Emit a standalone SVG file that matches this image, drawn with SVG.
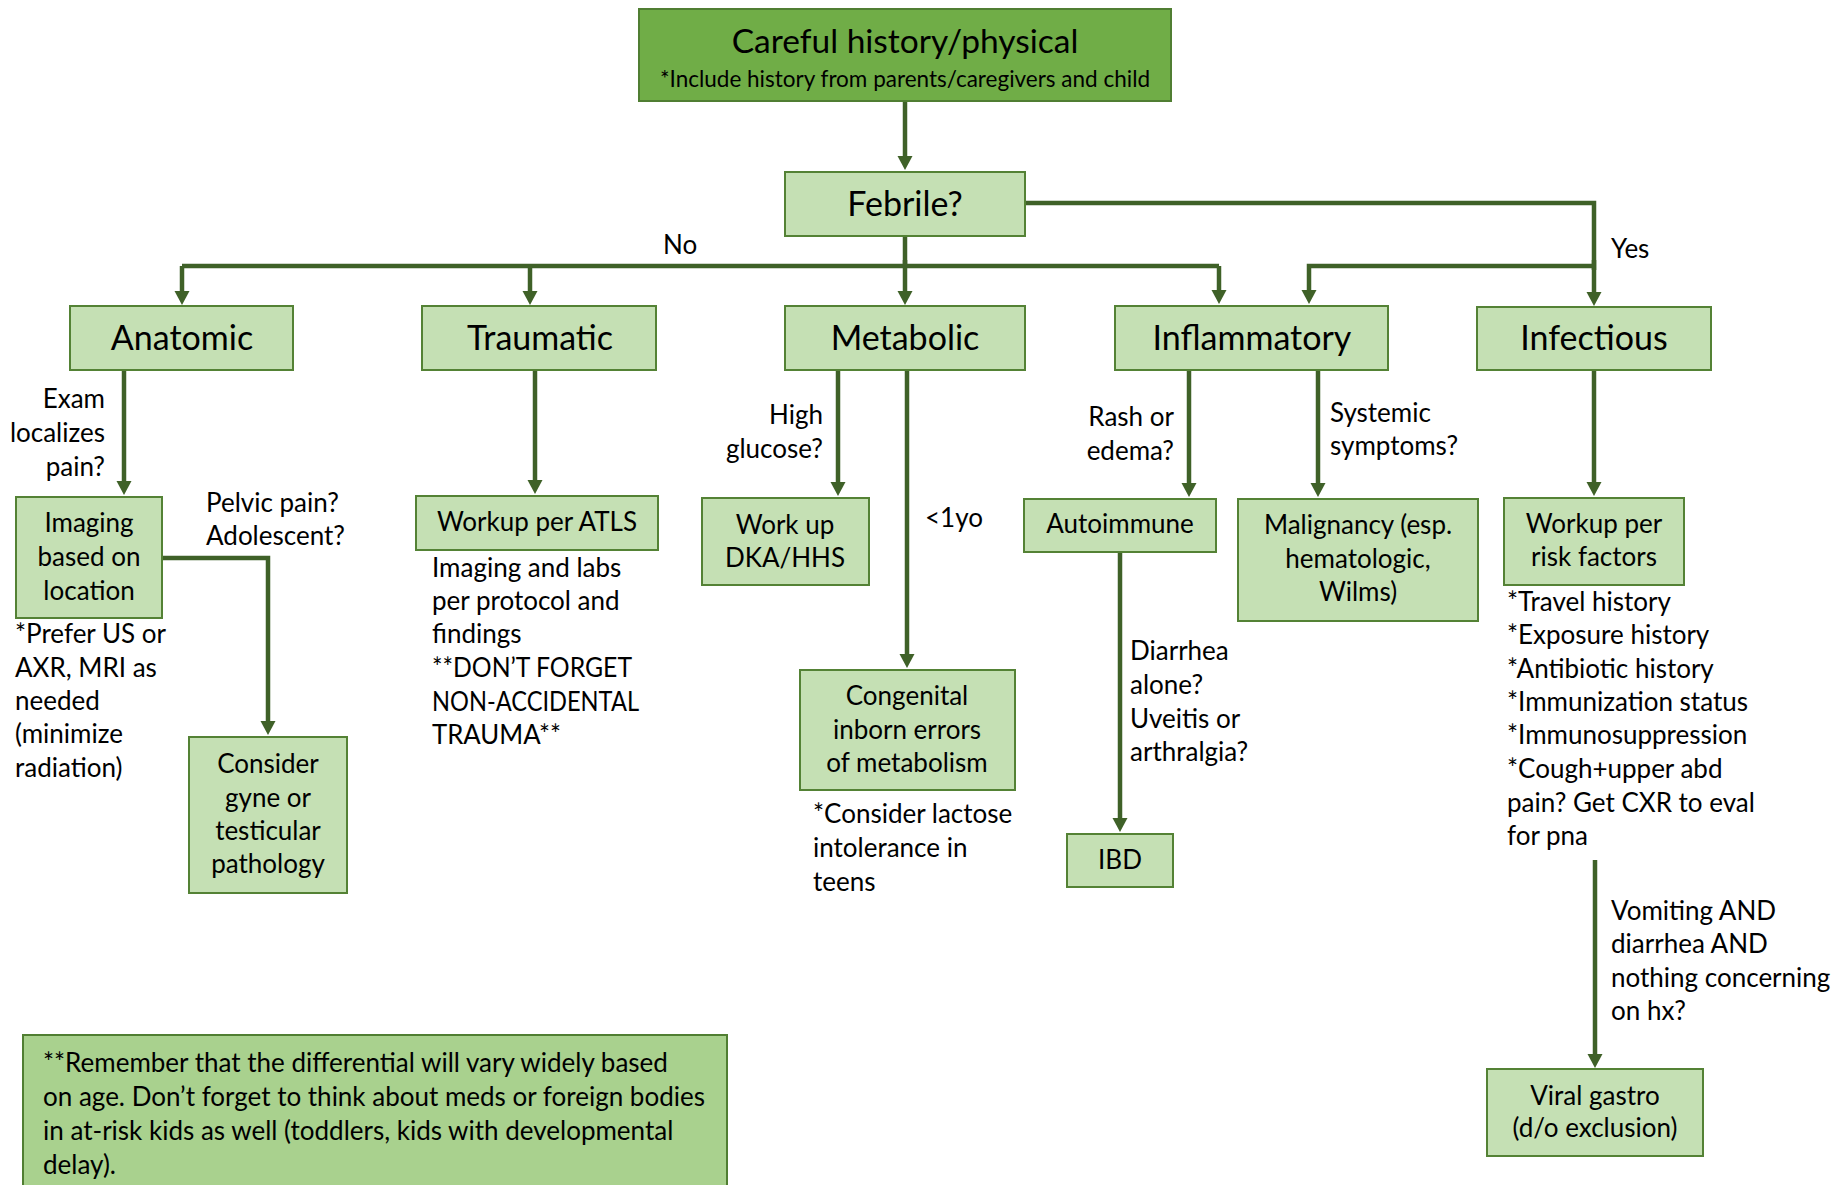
<svg xmlns="http://www.w3.org/2000/svg" width="1843" height="1185" viewBox="0 0 1843 1185">
<style>
text { font-family: Lato, "Liberation Sans", sans-serif; fill: #000; }
.box { fill: #C5E0B4; stroke: #548235; stroke-width: 2; }
.top { fill: #70AD47; stroke: #507E32; stroke-width: 2; }
.note { fill: #A9D18E; stroke: #507E32; stroke-width: 2; }
.big { font-size: 34px; text-anchor: middle; }
.ttl { font-size: 33.5px; text-anchor: middle; }
.sub { font-size: 22.5px; text-anchor: middle; }
.t { font-size: 26px; }
.n { font-size: 26px; }
.c { font-size: 26px; text-anchor: middle; }
.r { font-size: 26px; text-anchor: end; }
.ln { fill: none; stroke: #3F6128; stroke-width: 4.5; }
.arr { fill: none; stroke: #3F6128; stroke-width: 4.5; marker-end: url(#ah); }
</style>
<defs>
<marker id="ah" markerUnits="userSpaceOnUse" markerWidth="16" markerHeight="16" refX="0" refY="7.5" orient="auto">
<path d="M0,0 L14,7.5 L0,15 z" fill="#3F6128"/>
</marker>
</defs>
<rect width="1843" height="1185" fill="#FFFFFF"/>

<g id="connectors">
<path class="arr" d="M905,101 V156"/>
<path class="ln" d="M905,236 V266"/>
<path class="ln" d="M182,266 H1219"/>
<path class="arr" d="M182,266 V291"/>
<path class="arr" d="M530,266 V291"/>
<path class="arr" d="M905,260 V291"/>
<path class="arr" d="M1219,266 V290"/>
<path class="ln" d="M1025,203 H1594 V270"/>
<path class="arr" d="M1594,260 V292"/>
<path class="arr" d="M1594,266 H1309 V290"/>
<path class="arr" d="M124,370 V481"/>
<path class="arr" d="M162,558 H268 V721"/>
<path class="arr" d="M535,370 V480"/>
<path class="arr" d="M838,370 V482"/>
<path class="arr" d="M907,370 V654"/>
<path class="arr" d="M1189,370 V483"/>
<path class="arr" d="M1318,370 V483"/>
<path class="arr" d="M1120,552 V818"/>
<path class="arr" d="M1594,370 V482"/>
<path class="arr" d="M1595,860 V1054"/>
</g>

<g id="edge-labels">
<text class="t" x="663" y="254">No</text>
<text class="t" x="1611" y="258">Yes</text>
<text class="r" x="105" y="408">Exam</text>
<text class="r" x="105" y="442">localizes</text>
<text class="r" x="105" y="476">pain?</text>
<text class="t" x="206" y="512">Pelvic pain?</text>
<text class="t" x="206" y="545">Adolescent?</text>
<text class="r" x="823" y="424">High</text>
<text class="r" x="823" y="458">glucose?</text>
<text class="t" x="925" y="527">&lt;1yo</text>
<text class="r" x="1174" y="426">Rash or</text>
<text class="r" x="1174" y="460">edema?</text>
<text class="t" x="1330" y="422">Systemic</text>
<text class="t" x="1330" y="455">symptoms?</text>
<text class="t" x="1130" y="660">Diarrhea</text>
<text class="t" x="1130" y="694">alone?</text>
<text class="t" x="1130" y="728">Uveitis or</text>
<text class="t" x="1130" y="761">arthralgia?</text>
<text class="t" x="1611" y="920">Vomiting AND</text>
<text class="t" x="1611" y="953">diarrhea AND</text>
<text class="t" x="1611" y="987">nothing concerning</text>
<text class="t" x="1611" y="1020">on hx?</text>
</g>

<g id="node-history">
<rect class="top" x="639" y="9" width="532" height="92"/>
<text class="ttl" x="905" y="53">Careful history/physical</text>
<text class="sub" x="905" y="87">*Include history from parents/caregivers and child</text>
</g>

<g id="node-febrile">
<rect class="box" x="785" y="172" width="240" height="64"/>
<text class="big" x="905" y="216">Febrile?</text>
</g>

<g id="node-anatomic">
<rect class="box" x="70" y="306" width="223" height="64"/>
<text class="big" x="182" y="350">Anatomic</text>
</g>

<g id="node-traumatic">
<rect class="box" x="422" y="306" width="234" height="64"/>
<text class="big" x="540" y="350">Traumatic</text>
</g>

<g id="node-metabolic">
<rect class="box" x="785" y="306" width="240" height="64"/>
<text class="big" x="905" y="350">Metabolic</text>
</g>

<g id="node-inflammatory">
<rect class="box" x="1115" y="306" width="273" height="64"/>
<text class="big" x="1252" y="350">Inflammatory</text>
</g>

<g id="node-infectious">
<rect class="box" x="1477" y="307" width="234" height="63"/>
<text class="big" x="1594" y="350">Infectious</text>
</g>

<g id="node-imaging">
<rect class="box" x="16" y="497" width="146" height="121"/>
<text class="c" x="89" y="532">Imaging</text>
<text class="c" x="89" y="566">based on</text>
<text class="c" x="89" y="600">location</text>
</g>
<g id="note-imaging">
<text class="t" x="15" y="643">*Prefer US or</text>
<text class="t" x="15" y="677">AXR, MRI as</text>
<text class="t" x="15" y="710">needed</text>
<text class="t" x="15" y="743">(minimize</text>
<text class="t" x="15" y="777">radiation)</text>
</g>

<g id="node-consider">
<rect class="box" x="189" y="737" width="158" height="156"/>
<text class="c" x="268" y="773">Consider</text>
<text class="c" x="268" y="807">gyne or</text>
<text class="c" x="268" y="840">testicular</text>
<text class="c" x="268" y="873">pathology</text>
</g>

<g id="node-atls">
<rect class="box" x="416" y="496" width="242" height="54"/>
<text class="c" x="537" y="531">Workup per ATLS</text>
</g>
<g id="note-atls">
<text class="t" x="432" y="577">Imaging and labs</text>
<text class="t" x="432" y="610">per protocol and</text>
<text class="t" x="432" y="643">findings</text>
<text class="t" x="432" y="677" textLength="200" lengthAdjust="spacingAndGlyphs">**DON’T FORGET</text>
<text class="t" x="432" y="711" textLength="207" lengthAdjust="spacingAndGlyphs">NON-ACCIDENTAL</text>
<text class="t" x="432" y="744" textLength="129" lengthAdjust="spacingAndGlyphs">TRAUMA**</text>
</g>

<g id="node-dka">
<rect class="box" x="702" y="498" width="167" height="87"/>
<text class="c" x="785" y="534">Work up</text>
<text class="c" x="785" y="567">DKA/HHS</text>
</g>

<g id="node-congenital">
<rect class="box" x="800" y="670" width="215" height="120"/>
<text class="c" x="907" y="705">Congenital</text>
<text class="c" x="907" y="739">inborn errors</text>
<text class="c" x="907" y="772">of metabolism</text>
</g>
<g id="note-congenital">
<text class="t" x="813" y="823">*Consider lactose</text>
<text class="t" x="813" y="857">intolerance in</text>
<text class="t" x="813" y="891">teens</text>
</g>

<g id="node-autoimmune">
<rect class="box" x="1024" y="499" width="192" height="53"/>
<text class="c" x="1120" y="533">Autoimmune</text>
</g>

<g id="node-malignancy">
<rect class="box" x="1238" y="499" width="240" height="122"/>
<text class="c" x="1358" y="534">Malignancy (esp.</text>
<text class="c" x="1358" y="568">hematologic,</text>
<text class="c" x="1358" y="601">Wilms)</text>
</g>

<g id="node-ibd">
<rect class="box" x="1067" y="834" width="106" height="53"/>
<text class="c" x="1120" y="869">IBD</text>
</g>

<g id="node-riskfactors">
<rect class="box" x="1504" y="498" width="180" height="87"/>
<text class="c" x="1594" y="533">Workup per</text>
<text class="c" x="1594" y="566">risk factors</text>
</g>
<g id="note-riskfactors">
<text class="t" x="1507" y="611">*Travel history</text>
<text class="t" x="1507" y="644">*Exposure history</text>
<text class="t" x="1507" y="678">*Antibiotic history</text>
<text class="t" x="1507" y="711">*Immunization status</text>
<text class="t" x="1507" y="744">*Immunosuppression</text>
<text class="t" x="1507" y="778">*Cough+upper abd</text>
<text class="t" x="1507" y="812">pain? Get CXR to eval</text>
<text class="t" x="1507" y="845">for pna</text>
</g>

<g id="node-viral">
<rect class="box" x="1487" y="1069" width="216" height="87"/>
<text class="c" x="1595" y="1105">Viral gastro</text>
<text class="c" x="1595" y="1137">(d/o exclusion)</text>
</g>

<g id="node-footnote">
<rect class="note" x="23" y="1035" width="704" height="170"/>
<text class="n" x="43" y="1072">**Remember that the differential will vary widely based</text>
<text class="n" x="43" y="1106">on age. Don’t forget to think about meds or foreign bodies</text>
<text class="n" x="43" y="1140">in at-risk kids as well (toddlers, kids with developmental</text>
<text class="n" x="43" y="1174">delay).</text>
</g>
</svg>
